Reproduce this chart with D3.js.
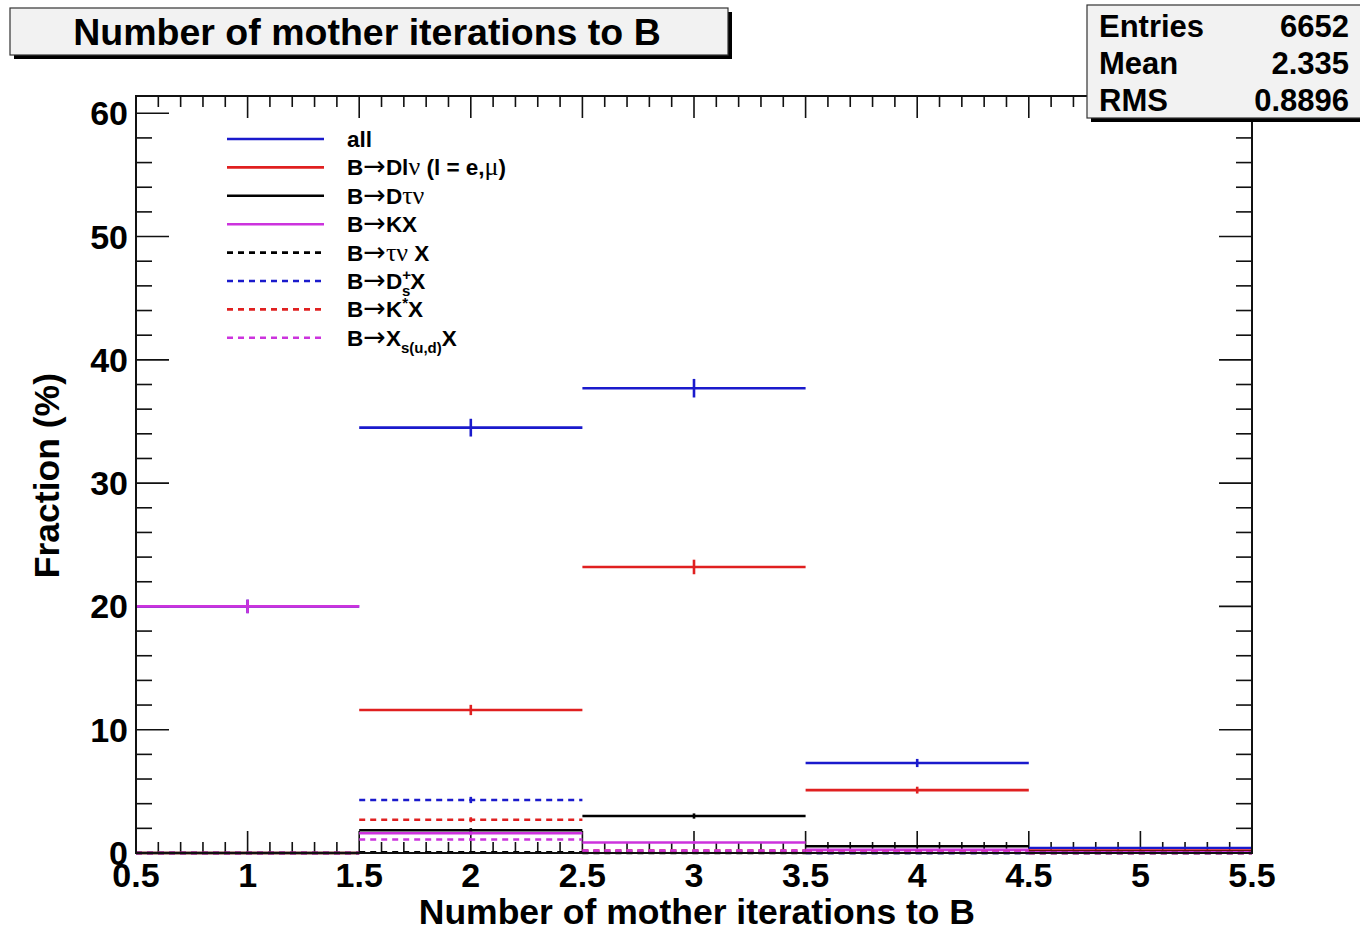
<!DOCTYPE html>
<html>
<head>
<meta charset="utf-8">
<script src="https://cdn.jsdelivr.net/npm/d3@7"></script>
<style>
  html, body { margin: 0; padding: 0; background: #fff; }
  svg { display: block; font-family: "Liberation Sans", Arial, sans-serif; font-weight: bold; }
</style>
</head>
<body>
<div id="chart"></div>
<script>
// --- Data ---
const binCenters = [1, 2, 3, 4, 5];
const allFrac    = [20.0, 34.5, 37.7, 7.3, 0.4];
const dlnuFrac   = [0, 11.6, 23.2, 5.1, 0.2];
const dtaunuFrac = [0, 1.85, 3.0, 0.55, 0.1];
const kxFrac     = [20.0, 1.6, 0.85, 0.25, 0.05];
const taunuXFrac = [0, 0.05, 0, 0, 0];
const dsXFrac    = [0, 4.3, 0.1, 0, 0];
const kstarXFrac = [0, 2.7, 0.2, 0.1, 0];
const xsXFrac    = [0, 1.1, 0.2, 0.1, 0];

const xTickLabels = ["0.5", "1", "1.5", "2", "2.5", "3", "3.5", "4", "4.5", "5", "5.5"];
const yTickLabels = ["0", "10", "20", "30", "40", "50", "60"];

const statsLabels = ["Entries", "Mean", "RMS"];
const statsValues = ["6652", "2.335", "0.8896"];
const nEntries = 6652;

// legend labels, split into pieces: g = greek/symbol, a = arrow, sup/sub = scripts
const legendLabels = [
  [{t: "all"}],
  [{t: "B"}, {t: "\u2192", k: "a"}, {t: "Dl"}, {t: "\u03bd", k: "g"}, {t: " (l = e,"}, {t: "\u03bc", k: "g"}, {t: ")"}],
  [{t: "B"}, {t: "\u2192", k: "a"}, {t: "D"}, {t: "\u03c4\u03bd", k: "g"}],
  [{t: "B"}, {t: "\u2192", k: "a"}, {t: "KX"}],
  [{t: "B"}, {t: "\u2192", k: "a"}, {t: "\u03c4\u03bd", k: "g"}, {t: " X"}],
  [{t: "B"}, {t: "\u2192", k: "a"}, {t: "D"}, {t: "+", k: "sup"}, {t: "s", k: "sub", dx: -9}, {t: "X"}],
  [{t: "B"}, {t: "\u2192", k: "a"}, {t: "K"}, {t: "*", k: "sup"}, {t: "X"}],
  [{t: "B"}, {t: "\u2192", k: "a"}, {t: "X"}, {t: "s(u,d)", k: "sub"}, {t: "X"}]
];

const seriesList = [
  {values: allFrac,    color: "#1a1acc", dash: null},
  {values: dlnuFrac,   color: "#e02020", dash: null},
  {values: dtaunuFrac, color: "#000000", dash: null},
  {values: kxFrac,     color: "#cc33dd", dash: null},
  {values: taunuXFrac, color: "#000000", dash: "6,5"},
  {values: dsXFrac,    color: "#1a1acc", dash: "6,5"},
  {values: kstarXFrac, color: "#e02020", dash: "6,5"},
  {values: xsXFrac,    color: "#cc33dd", dash: "6,5"}
];

// --- Layout ---
const width = 1360, height = 930;
const frame = {left: 136, right: 1252, top: 96, bottom: 853};

const svg = d3.select("#chart").append("svg")
  .attr("width", width).attr("height", height);

const x = d3.scaleLinear().domain([0.5, 5.5]).range([frame.left, frame.right]);
const y = d3.scaleLinear().domain([0, 61.4]).range([frame.bottom, frame.top]);

// --- Ticks (ROOT style, on all four sides) ---
const ticksG = svg.append("g").attr("stroke", "#111").attr("stroke-width", 1.6);
const xMinor = d3.range(0.5, 5.5001, 0.1);
xMinor.forEach(v => {
  const major = Math.abs(v * 2 - Math.round(v * 2)) < 1e-6;
  const len = major ? 22 : 11;
  ticksG.append("line").attr("x1", x(v)).attr("x2", x(v))
    .attr("y1", frame.bottom).attr("y2", frame.bottom - len);
  ticksG.append("line").attr("x1", x(v)).attr("x2", x(v))
    .attr("y1", frame.top).attr("y2", frame.top + len);
});
const yMinor = d3.range(0, 61.4, 2);
yMinor.forEach(v => {
  const major = v % 10 === 0;
  const len = major ? 33 : 16;
  ticksG.append("line").attr("y1", y(v)).attr("y2", y(v))
    .attr("x1", frame.left).attr("x2", frame.left + len);
  ticksG.append("line").attr("y1", y(v)).attr("y2", y(v))
    .attr("x1", frame.right).attr("x2", frame.right - len);
});

// --- Histograms ---
const histG = svg.append("g");
seriesList.forEach(s => {
  const g = histG.append("g")
    .attr("stroke", s.color).attr("stroke-width", 2.6).attr("fill", "none");
  s.values.forEach((v, i) => {
    const c = binCenters[i];
    g.append("line")
      .attr("x1", x(c - 0.5)).attr("x2", x(c + 0.5))
      .attr("y1", y(v)).attr("y2", y(v))
      .attr("stroke-dasharray", s.dash);
    if (v > 0) {
      const err = Math.sqrt(v / 100 * nEntries) / nEntries * 100;
      g.append("line")
        .attr("x1", x(c)).attr("x2", x(c))
        .attr("y1", y(v - err)).attr("y2", y(v + err));
    }
  });
});

// --- Frame ---
svg.append("rect")
  .attr("x", frame.left).attr("y", frame.top)
  .attr("width", frame.right - frame.left).attr("height", frame.bottom - frame.top)
  .attr("fill", "none").attr("stroke", "#111").attr("stroke-width", 2);

// --- Tick labels ---
svg.append("g").selectAll("text").data(xTickLabels).enter().append("text")
  .attr("x", d => x(+d)).attr("y", 887)
  .attr("text-anchor", "middle").attr("font-size", 34)
  .text(d => d);
svg.append("g").selectAll("text").data(yTickLabels).enter().append("text")
  .attr("x", 128).attr("y", d => y(+d) + 12)
  .attr("text-anchor", "end").attr("font-size", 34)
  .text(d => d);

// --- Axis titles ---
svg.append("text").attr("x", 975).attr("y", 924)
  .attr("text-anchor", "end").attr("font-size", 35.5)
  .text("Number of mother iterations to B");
svg.append("text")
  .attr("transform", "translate(59,373) rotate(-90)")
  .attr("text-anchor", "end").attr("font-size", 35.5)
  .text("Fraction (%)");

// --- Legend ---
const legendRows = d3.range(legendLabels.length);
const legG = svg.append("g");
legendRows.forEach(i => {
  const ly = 139 + i * 28.4;
  const s = seriesList[i];
  legG.append("line").attr("x1", 227).attr("x2", 324)
    .attr("y1", ly).attr("y2", ly)
    .attr("stroke", s.color).attr("stroke-width", 2.6)
    .attr("stroke-dasharray", s.dash);
  const t = legG.append("text").attr("x", 347).attr("y", ly + 8).attr("font-size", 22.5);
  let shift = 0;
  legendLabels[i].forEach(p => {
    const ts = t.append("tspan").text(p.t);
    let target = 0;
    if (p.k === "sup") target = -9;
    if (p.k === "sub") target = 7;
    if (target !== shift) ts.attr("dy", target - shift);
    shift = target;
    if (p.dx) ts.attr("dx", p.dx);
    if (p.k === "g") ts.attr("font-family", "Liberation Serif").attr("font-weight", "normal").attr("font-size", 26);
    if (p.k === "a") ts.attr("font-family", "DejaVu Sans").attr("font-weight", "normal").attr("font-size", 27);
    if (p.k === "sup" || p.k === "sub") ts.attr("font-size", 15);
  });
});

// --- Title box ---
function shadowBox(bx, by, bw, bh) {
  svg.append("rect").attr("x", bx + 4).attr("y", by + 4).attr("width", bw).attr("height", bh).attr("fill", "#000");
  svg.append("rect").attr("x", bx).attr("y", by).attr("width", bw).attr("height", bh)
    .attr("fill", "#f2f2f2").attr("stroke", "#333").attr("stroke-width", 1.2);
}
shadowBox(10, 8, 718, 47);
svg.append("text").attr("x", 367).attr("y", 45)
  .attr("text-anchor", "middle").attr("font-size", 37.5)
  .text("Number of mother iterations to B");

// --- Stats box ---
shadowBox(1087, 5, 290, 113);
statsLabels.forEach((lab, i) => {
  const by = 37 + i * 37;
  svg.append("text").attr("x", 1099).attr("y", by).attr("font-size", 31).text(lab);
  svg.append("text").attr("x", 1349).attr("y", by).attr("font-size", 31)
    .attr("text-anchor", "end").text(statsValues[i]);
});
</script>
</body>
</html>
